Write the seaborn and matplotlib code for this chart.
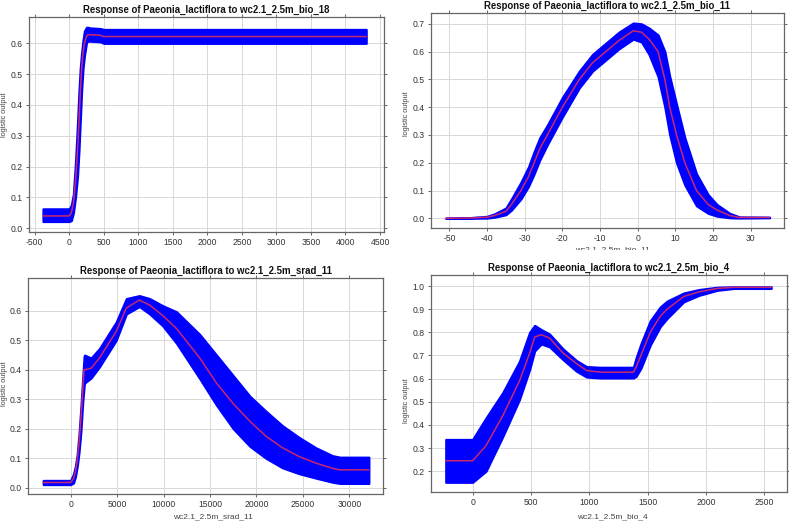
"""
Paeonia_lactiflora response curves (Maxent style, 4 panels)
"""
from matplotlib import pyplot as plt
from matplotlib.transforms import Bbox, TransformedBbox
import pandas as pd
import seaborn as sns

species = 'Paeonia_lactiflora'

# ---- bio_18 ----
bio18_x = [-380, 0, 30, 60, 90, 120, 140, 160, 180, 200, 220, 250, 270, 300, 450, 500, 4300]
bio18_mean = [0.04, 0.04, 0.05, 0.08, 0.15, 0.25, 0.34, 0.44, 0.52, 0.57, 0.60, 0.622, 0.628, 0.628, 0.626, 0.622, 0.622]
bio18_lower = [0.022, 0.022, 0.025, 0.05, 0.10, 0.17, 0.25, 0.35, 0.45, 0.52, 0.56, 0.603, 0.607, 0.607, 0.605, 0.600, 0.600]
bio18_upper = [0.063, 0.063, 0.075, 0.11, 0.21, 0.34, 0.44, 0.52, 0.57, 0.61, 0.64, 0.652, 0.652, 0.650, 0.648, 0.645, 0.645]

# ---- bio_11 ----
bio11_x = [-51, -45, -40, -38, -35, -33.5, -31, -29, -27.5, -26, -24, -20, -15.5, -12, -8.5, -5, -1.2,
           1, 3, 5.4, 7.2, 8.5, 10.3, 12.5, 15.6, 18.7, 21, 24.4, 27, 35]
bio11_mean = [0, 0.001, 0.004, 0.01, 0.025, 0.05, 0.10, 0.15, 0.20, 0.25, 0.30, 0.40, 0.50, 0.56, 0.60, 0.64, 0.675,
              0.67, 0.645, 0.60, 0.50, 0.40, 0.30, 0.20, 0.10, 0.05, 0.03, 0.01, 0.003, 0.003]
bio11_lower = [0, 0, 0.001, 0.004, 0.013, 0.03, 0.07, 0.115, 0.16, 0.21, 0.265, 0.365, 0.47, 0.53, 0.57, 0.61, 0.645,
               0.635, 0.59, 0.51, 0.40, 0.30, 0.20, 0.12, 0.045, 0.018, 0.008, 0.002, 0.001, 0.002]
bio11_upper = [0, 0.002, 0.007, 0.016, 0.037, 0.07, 0.13, 0.185, 0.24, 0.29, 0.335, 0.435, 0.53, 0.59, 0.63, 0.67, 0.703,
               0.70, 0.685, 0.66, 0.60, 0.51, 0.41, 0.29, 0.16, 0.085, 0.05, 0.018, 0.005, 0.004]

# ---- srad_11 ----
srad11_x = [-2950, 0, 300, 500, 700, 900, 1100, 1300, 1450, 1500, 2200, 3100, 4900, 6000, 7400, 8500, 9900,
            11400, 13900, 15700, 17500, 19300, 21000, 22800, 24600, 26400, 28200, 29000, 32100]
srad11_mean = [0.017, 0.017, 0.03, 0.05, 0.09, 0.15, 0.23, 0.33, 0.40, 0.40, 0.405, 0.44, 0.53, 0.61, 0.637, 0.62, 0.585,
               0.54, 0.44, 0.355, 0.285, 0.225, 0.175, 0.135, 0.105, 0.083, 0.065, 0.06, 0.06]
srad11_lower = [0.010, 0.010, 0.015, 0.035, 0.07, 0.12, 0.19, 0.29, 0.345, 0.355, 0.372, 0.41, 0.50, 0.59, 0.615, 0.59, 0.55,
                0.49, 0.37, 0.28, 0.20, 0.14, 0.10, 0.067, 0.047, 0.032, 0.018, 0.014, 0.014]
srad11_upper = [0.024, 0.024, 0.045, 0.07, 0.11, 0.18, 0.27, 0.37, 0.445, 0.45, 0.44, 0.472, 0.562, 0.642, 0.652, 0.642, 0.618,
                0.597, 0.52, 0.45, 0.38, 0.31, 0.26, 0.21, 0.17, 0.135, 0.108, 0.103, 0.103]

# ---- bio_4 ----
bio4_x = [-230, 0, 115, 259, 402, 489, 532, 589, 661, 776, 891, 977, 1092, 1379, 1402, 1443, 1523, 1609, 1667,
          1810, 1940, 2098, 2241, 2560]
bio4_mean = [0.245, 0.245, 0.31, 0.44, 0.59, 0.71, 0.78, 0.79, 0.775, 0.71, 0.665, 0.635, 0.628, 0.628, 0.65, 0.70,
             0.80, 0.87, 0.90, 0.955, 0.975, 0.99, 0.995, 0.995]
bio4_lower = [0.152, 0.152, 0.20, 0.35, 0.51, 0.64, 0.72, 0.75, 0.737, 0.682, 0.632, 0.607, 0.603, 0.603, 0.61, 0.645,
              0.745, 0.825, 0.86, 0.932, 0.96, 0.982, 0.99, 0.99]
bio4_upper = [0.337, 0.337, 0.43, 0.54, 0.675, 0.80, 0.83, 0.812, 0.792, 0.728, 0.678, 0.652, 0.649, 0.649, 0.69, 0.75,
              0.85, 0.91, 0.935, 0.97, 0.985, 0.995, 0.997, 0.997]

panels = [
    dict(var='wc2.1_2.5m_bio_18', x=bio18_x, mean=bio18_mean, lo=bio18_lower, hi=bio18_upper,
         pos=[0.0368, 0.5579, 0.4499, 0.4100], xlim=(-582, 4558), ylim=(-0.011, 0.686),
         xticks=range(-500, 5000, 500), yticks=[0, 0.1, 0.2, 0.3, 0.4, 0.5, 0.6],
         ylab=(-0.058, 0.544), xlab=None),
    dict(var='wc2.1_2.5m_bio_11', x=bio11_x, mean=bio11_mean, lo=bio11_lower, hi=bio11_upper,
         pos=[0.5459, 0.5643, 0.4474, 0.4103], xlim=(-54.95, 38.75), ylim=(-0.036, 0.738),
         xticks=range(-50, 40, 10), yticks=[0, 0.1, 0.2, 0.3, 0.4, 0.5, 0.6, 0.7],
         ylab=(-0.058, 0.535), xlab=(0.516, -0.084)),
    dict(var='wc2.1_2.5m_srad_11', x=srad11_x, mean=srad11_mean, lo=srad11_lower, hi=srad11_upper,
         pos=[0.0355, 0.0573, 0.4503, 0.4122], xlim=(-4588, 33656), ylim=(-0.022, 0.712),
         xticks=range(0, 35000, 5000), yticks=[0, 0.1, 0.2, 0.3, 0.4, 0.5, 0.6],
         ylab=(-0.056, 0.51), xlab=(0.52, -0.088)),
    dict(var='wc2.1_2.5m_bio_4', x=bio4_x, mean=bio4_mean, lo=bio4_lower, hi=bio4_upper,
         pos=[0.5459, 0.0611, 0.4512, 0.4141], xlim=(-359, 2693), ylim=(0.110, 1.048),
         xticks=range(0, 3000, 500), yticks=[0.2, 0.3, 0.4, 0.5, 0.6, 0.7, 0.8, 0.9, 1.0],
         ylab=(-0.058, 0.42), xlab=(0.511, -0.097)),
]

sns.set_style('whitegrid')
plt.rcParams['font.family'] = ['Liberation Sans', 'DejaVu Sans']

fig = plt.figure(figsize=(7.89, 5.24), dpi=100)

for i, p in enumerate(panels):
    ax = fig.add_axes(p['pos'])
    data = pd.DataFrame({'x': p['x'], 'y': p['mean']})
    # thick blue band, drawn with an edge so it looks like the java plot
    ax.fill_between(p['x'], p['lo'], p['hi'], facecolor='#0000ff', edgecolor='#0000ff',
                    lw=1.6, zorder=2)
    sns.lineplot(data=data, x='x', y='y', ax=ax, color='#c8286e', lw=1.1, zorder=3)

    ax.set_xlim(*p['xlim'])
    ax.set_ylim(*p['ylim'])
    ax.set_xticks(list(p['xticks']))
    ax.set_xticklabels([str(t) for t in p['xticks']])
    ax.set_yticks(p['yticks'])
    ax.set_yticklabels(['%.1f' % t for t in p['yticks']])

    ax.set_title(f"Response of {species} to {p['var']}", fontsize=6.9, fontweight='bold',
                 color='#111111', pad=3)
    ax.set_ylabel('logistic output', fontsize=5.3, color='#444444')
    ax.yaxis.set_label_coords(*p['ylab'])
    if p['xlab'] is not None:
        ax.set_xlabel(p['var'], fontsize=6, color='#444444', va='top')
        ax.xaxis.set_label_coords(*p['xlab'])
    else:
        ax.set_xlabel('')

    ax.grid(True, color='#d8d8d8', lw=0.7)
    ax.set_facecolor('white')
    for s in ax.spines.values():
        s.set_color('#666666')
        s.set_linewidth(0.9)
    ax.tick_params(axis='both', labelsize=6.2, labelcolor='#333333', color='#666666',
                   length=2.5, width=0.7, pad=1.8, direction='out',
                   bottom=True, left=True, top=True, right=True)

    # the screenshot of the upper right panel cuts its x label off
    if i == 1:
        clip = TransformedBbox(Bbox.from_extents(0, 274 / 524, 1, 1), fig.transFigure)
        ax.xaxis.label.set_clip_box(clip)
        ax.xaxis.label.set_clip_on(True)

plt.savefig('out.png', dpi=100)
